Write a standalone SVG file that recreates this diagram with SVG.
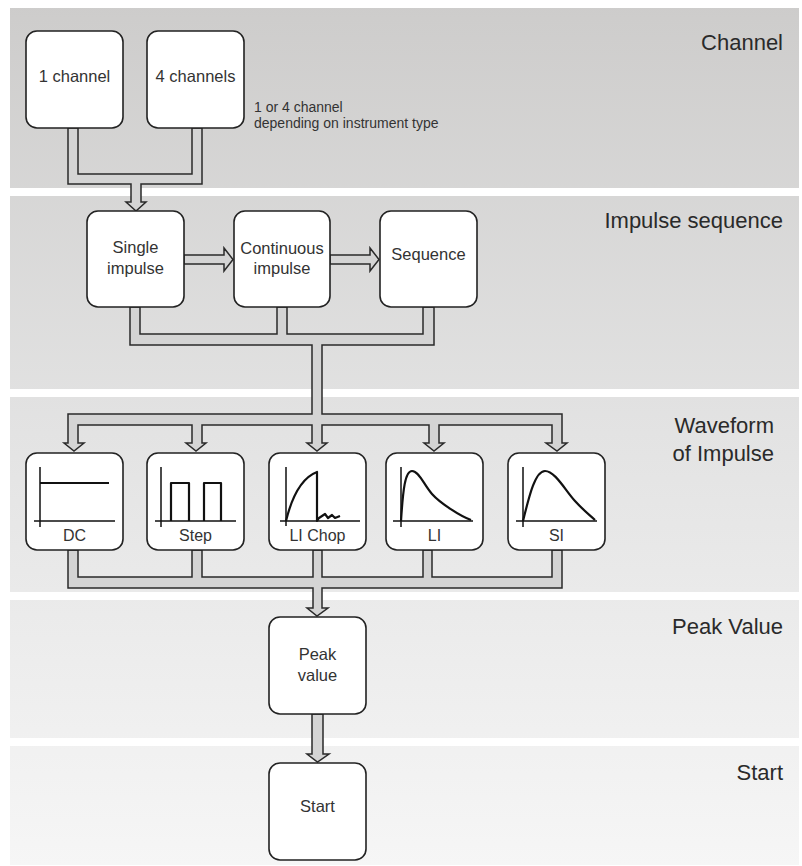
<svg xmlns="http://www.w3.org/2000/svg" width="802" height="866" viewBox="0 0 802 866">
<defs>
<linearGradient id="bg" gradientUnits="userSpaceOnUse" x1="0" y1="0" x2="0" y2="866">
<stop offset="0" stop-color="#cdcccb"/>
<stop offset="0.5" stop-color="#e3e3e3"/>
<stop offset="1" stop-color="#f6f6f6"/>
</linearGradient>
<style>
.band{fill:url(#bg)}
.box{fill:#fff;stroke:#222;stroke-width:1.6}
.pipe{fill:#d4d4d4;stroke:#2a2a2a;stroke-width:1.5;stroke-linejoin:miter}
.t{font-family:"Liberation Sans",Arial,sans-serif;font-size:16.5px;fill:#333;text-anchor:middle}
.w{font-family:"Liberation Sans",Arial,sans-serif;font-size:16px;fill:#333;text-anchor:middle}
.note{font-family:"Liberation Sans",Arial,sans-serif;font-size:14px;fill:#333}
.lab{font-family:"Liberation Sans",Arial,sans-serif;font-size:22px;fill:#2a2a2a;text-anchor:end}
.ax{fill:none;stroke:#111;stroke-width:1.5}
.sig{fill:none;stroke:#111;stroke-width:2.2;stroke-linejoin:round}
</style>
</defs>
<g id="bands">
<rect class="band" x="10" y="8" width="789" height="180"/>
<rect class="band" x="10" y="196" width="789" height="193"/>
<rect class="band" x="10" y="397" width="789" height="195"/>
<rect class="band" x="10" y="600" width="789" height="138"/>
<rect class="band" x="10" y="746" width="789" height="119"/>
<text class="lab" x="783" y="50">Channel</text>
<text class="lab" x="783" y="228">Impulse sequence</text>
<text class="lab" x="774" y="433">Waveform</text>
<text class="lab" x="774" y="461">of Impulse</text>
<text class="lab" x="783" y="634">Peak Value</text>
<text class="lab" x="783" y="780">Start</text>
</g>
<g id="connectors">
<path class="pipe" d="M68,128 V184 H131 V202 H126 L136,211 L146,202 H141 V184 H202 V128 H192 V174 H78 V128 Z"/>
<path class="pipe" d="M184,255 H224 V248 L233,259.5 L224,271 V264 H184 Z"/>
<path class="pipe" d="M330,255 H370 V248 L379,259.5 L370,271 V264 H330 Z"/>
<path class="pipe" d="M130,307 V345 H312 V414 H68 V443 H64 L74,451 L84,443 H78 V425 H192 V443 H186 L196,451 L206,443 H202 V425 H312 V443 H307 L317,451 L327,443 H322 V425 H429 V443 H424 L434,451 L444,443 H439 V425 H552 V443 H546 L557,451 L567,443 H562 V414 H322 V345 H434 V307 H423 V334 H287 V307 H277 V334 H140 V307 Z"/>
<path class="pipe" d="M68,550 V588 H313 V608 H307 L317,616 L328,608 H322 V588 H562 V550 H552 V577 H432 V550 H423 V577 H322 V550 H313 V577 H202 V550 H192 V577 H78 V550 Z"/>
<path class="pipe" d="M312,714 V754 H307 L317.5,762 L329,754 H323 V714 Z"/>
</g>
<g id="node-1channel">
<rect class="box" x="26" y="31" width="97" height="97" rx="11"/>
<text class="t" x="74.5" y="82">1 channel</text>
</g>
<g id="node-4channels">
<rect class="box" x="147" y="31" width="97" height="97" rx="11"/>
<text class="t" x="195.5" y="82">4 channels</text>
</g>
<g id="note">
<text class="note" x="254" y="112">1 or 4 channel</text>
<text class="note" x="254" y="128">depending on instrument type</text>
</g>
<g id="node-single">
<rect class="box" x="87" y="211" width="97" height="96" rx="11"/>
<text class="t" x="135.5" y="253">Single</text>
<text class="t" x="135.5" y="274">impulse</text>
</g>
<g id="node-continuous">
<rect class="box" x="234" y="211" width="96" height="96" rx="11"/>
<text class="t" x="282" y="254">Continuous</text>
<text class="t" x="282" y="274">impulse</text>
</g>
<g id="node-sequence">
<rect class="box" x="380" y="211" width="97" height="96" rx="11"/>
<text class="t" x="428.5" y="260">Sequence</text>
</g>
<g id="node-dc">
<rect class="box" x="26" y="453" width="97" height="97" rx="11"/>
<path class="ax" d="M40,467 V527 M34,521 H115"/>
<path class="sig" d="M40,483 H109"/>
<text class="w" x="74.5" y="541">DC</text>
</g>
<g id="node-step">
<rect class="box" x="147" y="453" width="97" height="97" rx="11"/>
<path class="ax" d="M161,467 V527 M155,521 H236"/>
<path class="sig" d="M171,521 V483 H189 V521 M204,521 V483 H221 V521"/>
<text class="w" x="195.5" y="541">Step</text>
</g>
<g id="node-lichop">
<rect class="box" x="269" y="453" width="97" height="97" rx="11"/>
<path class="ax" d="M286,467 V526 M280,521 H360"/>
<path class="sig" d="M286,521 Q296,480 317,472 V521 L319,518 L325,514 L328,518 L332,515 L335,518 L340,516"/>
<text class="w" x="317.5" y="541">LI Chop</text>
</g>
<g id="node-li">
<rect class="box" x="386" y="453" width="97" height="97" rx="11"/>
<path class="ax" d="M401,467 V527 M393,521 H473"/>
<path class="sig" d="M401,521 C403,490 405,471 412,471 S424,485 432,494 S460,516 471,520"/>
<text class="w" x="434.5" y="541">LI</text>
</g>
<g id="node-si">
<rect class="box" x="508" y="453" width="97" height="97" rx="11"/>
<path class="ax" d="M523,467 V527 M516,521 H597"/>
<path class="sig" d="M523,521 C529,497 535,471 545,471 S565,490 575,501 S590,515 595,520"/>
<text class="w" x="556.5" y="541">SI</text>
</g>
<g id="node-peak">
<rect class="box" x="269" y="617" width="97" height="97" rx="11"/>
<text class="t" x="317.5" y="660">Peak</text>
<text class="t" x="317.5" y="681">value</text>
</g>
<g id="node-start">
<rect class="box" x="269" y="763" width="97" height="97" rx="11"/>
<text class="t" x="317.5" y="812">Start</text>
</g>
</svg>
